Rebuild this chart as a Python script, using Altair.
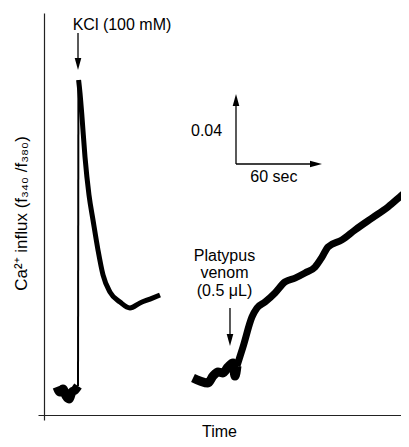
import altair as alt
import pandas as pd

FONT = "Liberation Sans, Arial, sans-serif"

# ---- KCl trace (time in s, ratio f340/f380) ----
kcl_base_t = [13.26, 15.35, 17.44, 19.53, 21.63, 23.72, 25.81, 27.91]
kcl_base_v = [0.6189, 0.6160, 0.6177, 0.6137, 0.6120, 0.6160, 0.6171, 0.6194]

kcl_up_t = [27.91, 28.20]
kcl_up_v = [0.6194, 0.7943]

kcl_decay_t = [28.33, 29.30, 30.70, 32.79, 35.58, 38.37, 41.86, 45.35, 50.23,
               57.21, 64.19, 71.16, 78.14, 85.12]
kcl_decay_v = [0.7943, 0.7869, 0.7731, 0.7503, 0.7286, 0.7143, 0.6971, 0.6829,
               0.6731, 0.6674, 0.6640, 0.6669, 0.6691, 0.6714]

# ---- Platypus venom trace ----
ven_base_t = [108.14, 113.02, 118.60, 122.09, 125.58, 129.07, 132.56, 136.05,
              137.44, 138.84]
ven_base_v = [0.6240, 0.6223, 0.6211, 0.6251, 0.6274, 0.6269, 0.6303, 0.6326,
              0.6251, 0.6309]

ven_rise_t = [138.84, 143.02, 149.30, 152.79, 158.37, 165.35, 172.33, 179.30,
              186.28, 193.26, 198.14, 202.33, 212.09, 221.16, 233.02, 244.19,
              253.95, 258.84]
ven_rise_v = [0.6309, 0.6417, 0.6589, 0.6640, 0.6674, 0.6726, 0.6789, 0.6811,
              0.6840, 0.6874, 0.6931, 0.6989, 0.7029, 0.7086, 0.7154, 0.7217,
              0.7286, 0.7320]

segments = [
    ("kcl_base", kcl_base_t, kcl_base_v, 9),
    ("kcl_up", kcl_up_t, kcl_up_v, 2),
    ("kcl_decay", kcl_decay_t, kcl_decay_v, 5),
    ("ven_base", ven_base_t, ven_base_v, 9),
    ("ven_rise", ven_rise_t, ven_rise_v, 7),
]
rows = []
for name, ts, vs, w in segments:
    for i, (t, v) in enumerate(zip(ts, vs)):
        rows.append({"t": t, "v": v, "seg": name, "ord": i, "w": w})
trace = pd.DataFrame(rows)

# ---- scale bar / annotation anchors (data units) ----
bar_t0, bar_v0 = 138.14, 0.7463
bar_dt, bar_dv = 60.0, 0.04

kcl_arrow_t = 27.91
ven_arrow_t = 133.95

rules = pd.DataFrame([
    {"t": kcl_arrow_t, "t2": kcl_arrow_t, "v": 0.8211, "v2": 0.8040},
    {"t": ven_arrow_t, "t2": ven_arrow_t, "v": 0.6640, "v2": 0.6475},
    {"t": bar_t0, "t2": bar_t0, "v": bar_v0, "v2": bar_v0 + bar_dv - 0.003},
    {"t": bar_t0, "t2": bar_t0 + bar_dt - 4.0, "v": bar_v0, "v2": bar_v0},
])

heads = pd.DataFrame([
    {"t": kcl_arrow_t, "v": 0.8034, "a": 0},
    {"t": ven_arrow_t, "v": 0.6457, "a": 0},
    {"t": bar_t0, "v": bar_v0 + bar_dv - 0.0034, "a": 180},
    {"t": bar_t0 + bar_dt - 4.2, "v": bar_v0, "a": 270},
])

labels = pd.DataFrame([
    {"t": 58.6, "v": 0.8229, "text": "KCl (100 mM)"},
    {"t": 117.6, "v": 0.7623, "text": "0.04"},
    {"t": 164.6, "v": 0.7360, "text": "60 sec"},
    {"t": 130.1, "v": 0.6909, "text": "Platypus"},
    {"t": 130.1, "v": 0.6811, "text": "venom"},
    {"t": 130.1, "v": 0.6709, "text": "(0.5 \u03bcL)"},
])

PLOT_W, PLOT_H = 363, 407
xscale = alt.Scale(domain=[0, PLOT_W / (86 / 60)], nice=False, zero=False)
yscale = alt.Scale(domain=[0.6, 0.6 + PLOT_H / 1750], nice=False, zero=False)

xaxis = alt.Axis(
    title="Time", ticks=False, labels=False, grid=False,
    domainColor="#222", domainWidth=1.2, offset=-5,
    titlePadding=8, titleFontSize=16, titleFontWeight="normal",
    titleColor="black", titleFont=FONT, titleX=181)
yaxis = alt.Axis(
    title="Ca\u00b2\u207a influx (f\u2083\u2084\u2080 /f\u2083\u2088\u2080)",
    ticks=False, labels=False, grid=False,
    domainColor="#222", domainWidth=1.2, offset=-6,
    titlePadding=14, titleFontSize=17, titleFontWeight="normal",
    titleColor="black", titleFont=FONT, titleY=200)

X = alt.X("t:Q", scale=xscale, axis=xaxis)
Y = alt.Y("v:Q", scale=yscale, axis=yaxis)

line = alt.Chart(trace).mark_line(
    color="black", strokeJoin="round", clip=True, interpolate="monotone"
).encode(
    x=X, y=Y,
    detail="seg:N",
    order="ord:Q",
    strokeWidth=alt.StrokeWidth("w:Q", scale=None),
)

rule_layer = alt.Chart(rules).mark_rule(color="black", strokeWidth=1.3).encode(
    x=X, x2="t2:Q", y=Y, y2="v2:Q",
)

head_layer = alt.Chart(heads).mark_point(
    shape="M-0.55,-1L0.55,-1L0,1Z", filled=True, color="black",
    opacity=1, size=144, strokeWidth=0,
).encode(
    x=X, y=Y,
    angle=alt.Angle("a:Q", scale=None),
)

text_layer = alt.Chart(labels).mark_text(
    font=FONT, fontSize=16, color="black", align="center", baseline="alphabetic",
).encode(
    x=X, y=Y,
    text="text:N",
)

chart = alt.layer(line, rule_layer, head_layer, text_layer).properties(
    width=PLOT_W, height=PLOT_H,
    autosize=alt.AutoSizeParams(type="none"),
    padding={"left": 30, "top": 5, "right": 0, "bottom": 22},
).configure(font=FONT).configure_view(stroke=None)

chart.save("out.html", embed_options={"renderer": "svg", "actions": False})
